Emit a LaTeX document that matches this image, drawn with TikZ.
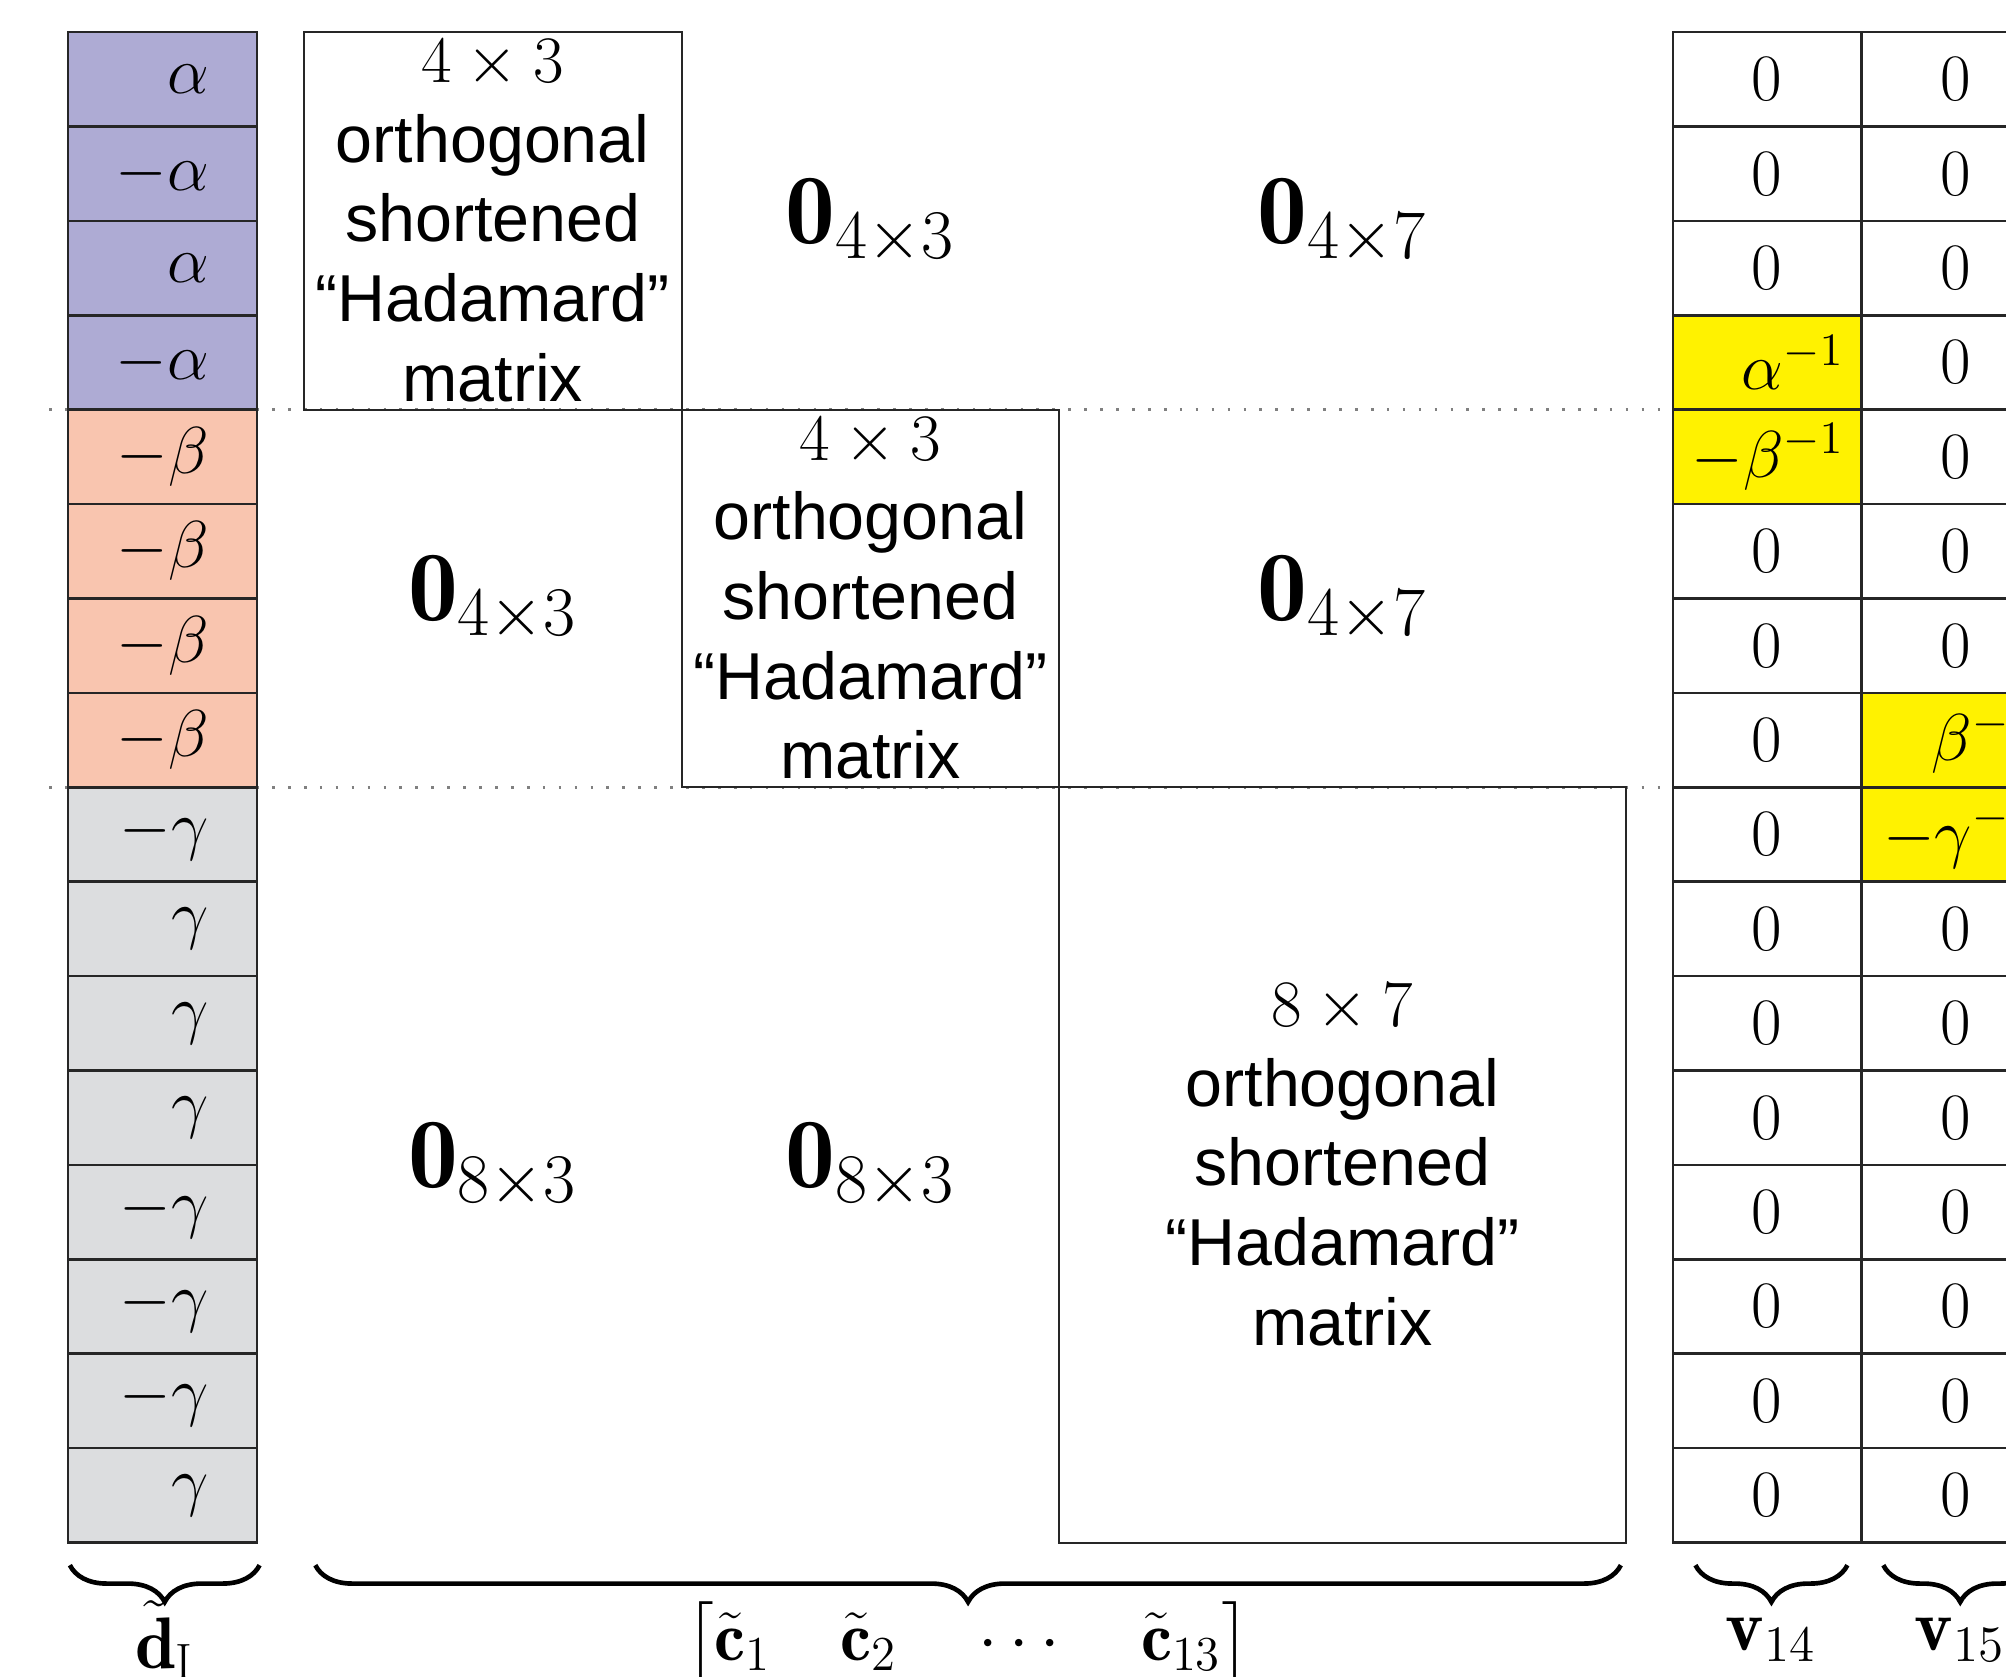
\documentclass[tikz,border=0pt]{standalone}
\usepackage{fix-cm}
\usepackage{amsmath,amssymb}
\usepackage{fontspec}
\newfontfamily\helv{Liberation Sans}
\usepackage{tikz}
\usetikzlibrary{decorations.pathreplacing}
\definecolor{acol}{RGB}{174,171,212}
\definecolor{bcol}{RGB}{249,197,175}
\definecolor{gcol}{RGB}{220,221,223}
\definecolor{ycol}{RGB}{255,242,0}

\begin{document}
\begin{tikzpicture}[x=1cm,y=1cm,
  cell/.style={draw=black!85,line width=0.75pt},
  blk/.style={draw=black!85,line width=0.6pt},
  ent/.style={inner sep=0pt,font=\fontsize{20}{24}\selectfont},
  bot/.style={inner sep=0pt,anchor=base,font=\fontsize{22}{26}\selectfont},
  had/.style={inner sep=0pt,align=center,font=\fontsize{20}{24}\selectfont\helv},
  zblk/.style={inner sep=0pt,font=\fontsize{30}{36}\selectfont},
  brc/.style={decorate,decoration={brace,mirror,amplitude=0.39cm},line width=1.4pt}]
  \clip (0,0.34) rectangle (21.25,-17.415);
  \draw[gray,line width=0.8pt,dash pattern=on 0.8pt off 4pt] (0.52,-4) -- (21.25,-4) (0.52,-8) -- (21.25,-8);

  \foreach \c/\v [count=\i] in {acol/\alpha,acol/-\alpha,acol/\alpha,acol/-\alpha,bcol/-\beta,bcol/-\beta,bcol/-\beta,bcol/-\beta,gcol/-\gamma,gcol/\gamma,gcol/\gamma,gcol/\gamma,gcol/-\gamma,gcol/-\gamma,gcol/-\gamma,gcol/\gamma}{
    \draw[cell,fill=\c] (0.72,1-\i) rectangle (2.72,-\i);
    \node[ent,anchor=east] (d\i) at (2.22,0.5-\i) {$\v$};
  }

  \draw[blk] (3.22,0) rectangle (7.22,-4);
  \draw[blk] (7.22,-4) rectangle (11.22,-8);
  \draw[blk] (11.22,-8) rectangle (17.22,-16);
  \node[had] (h1) at (5.22,-2) {$4\times 3$\\orthogonal\\shortened\\“Hadamard”\\matrix};
  \node[had] (h2) at (9.22,-6) {$4\times 3$\\orthogonal\\shortened\\“Hadamard”\\matrix};
  \node[had] (h3) at (14.22,-12) {$8\times 7$\\orthogonal\\shortened\\“Hadamard”\\matrix};
  \foreach \x/\y/\s [count=\k] in {9.22/-2/{4\times 3},14.22/-2/{4\times 7},5.22/-6/{4\times 3},14.22/-6/{4\times 7},5.22/-12/{8\times 3},9.22/-12/{8\times 3}}
    \node[zblk] (z\k) at (\x,\y) {$\mathbf{0}_{\s}$};

  \foreach \i in {1,...,16}{
    \draw[cell] (17.72,1-\i) rectangle (19.72,-\i);
    \draw[cell] (19.72,1-\i) rectangle (21.72,-\i);
  }
  \draw[cell,fill=ycol] (17.72,-3) rectangle (19.72,-4);
  \draw[cell,fill=ycol] (17.72,-4) rectangle (19.72,-5);
  \draw[cell,fill=ycol] (19.72,-7) rectangle (21.72,-8);
  \draw[cell,fill=ycol] (19.72,-8) rectangle (21.72,-9);
  \foreach \i in {1,2,3,6,7,...,16} \node[ent] (v14-\i) at (18.72,0.5-\i) {$0$};
  \foreach \i in {1,...,7,10,11,...,16} \node[ent] (v15-\i) at (20.72,0.5-\i) {$0$};
  \node[ent,anchor=east] (v14-4) at (19.54,-3.5) {$\alpha^{-1}$};
  \node[ent,anchor=east] (v14-5) at (19.54,-4.5) {$-\beta^{-1}$};
  \node[ent,anchor=east] (v15-8) at (21.54,-7.5) {$\beta^{-1}$};
  \node[ent,anchor=east] (v15-9) at (21.54,-8.5) {$-\gamma^{-1}$};

  \coordinate (bd0) at (0.74,-16.24);  \coordinate (bd1) at (2.75,-16.24);
  \coordinate (bc0) at (3.34,-16.24);  \coordinate (bc1) at (17.17,-16.24);
  \coordinate (bv0) at (17.96,-16.24); \coordinate (bv1) at (19.57,-16.24);
  \coordinate (bw0) at (19.95,-16.24); \coordinate (bw1) at (21.58,-16.24);
  \draw[brc] (bd0) -- (bd1);
  \draw[brc] (bc0) -- (bc1);
  \draw[brc] (bv0) -- (bv1);
  \draw[brc] (bw0) -- (bw1);
  \node[bot] (dI) at (1.745,-17.33) {$\tilde{\mathbf{d}}_{\mathrm{I}}$};
  \node[bot,font=\fontsize{21}{25}\selectfont] (cs) at (10.255,-17.25) {$\bigl[\tilde{\mathbf{c}}_1\quad\tilde{\mathbf{c}}_2\quad\cdots\quad\tilde{\mathbf{c}}_{13}\bigr]$};
  \node[bot] (v14) at (18.76,-17.14) {$\mathbf{v}_{14}$};
  \node[bot] (v15) at (20.76,-17.14) {$\mathbf{v}_{15}$};
\end{tikzpicture}
\end{document}
